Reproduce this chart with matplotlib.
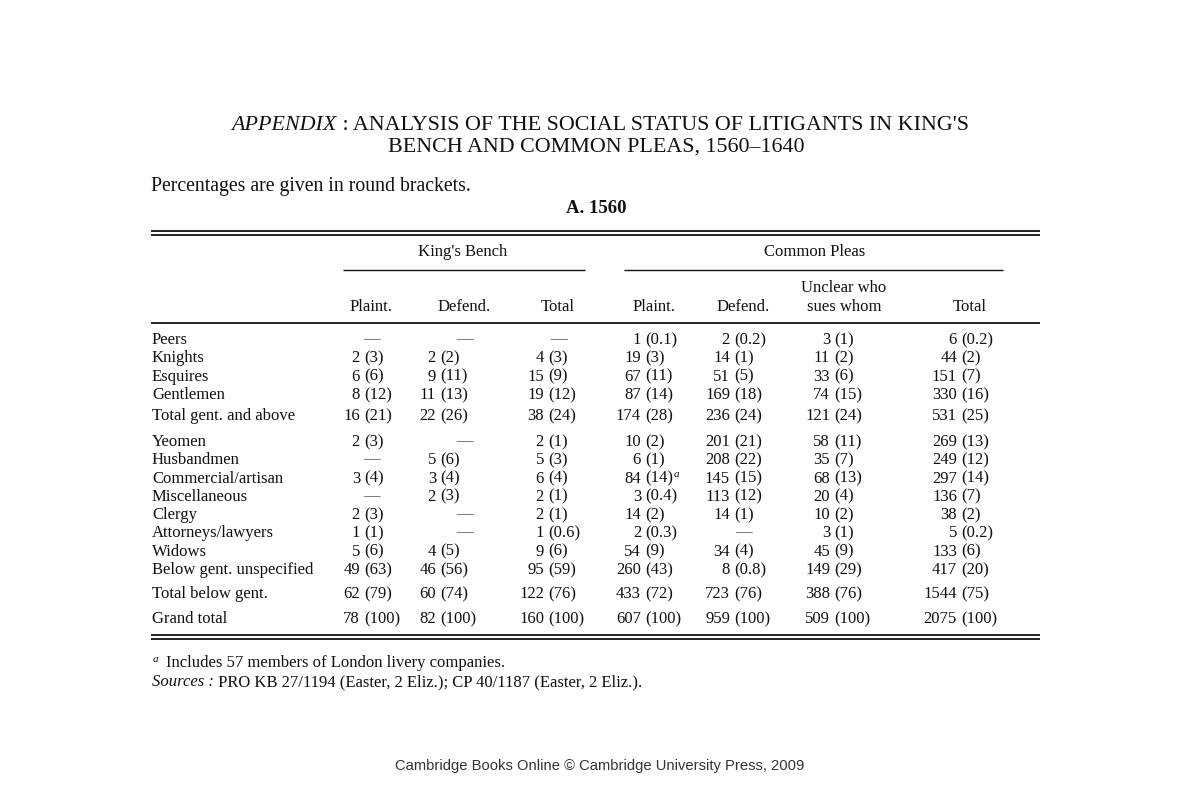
import matplotlib
matplotlib.use("Agg")
import matplotlib.pyplot as plt

# ---------------- data ----------------
row_labels = ["Peers", "Knights", "Esquires", "Gentlemen", "Total gent. and above",
              "Yeomen", "Husbandmen", "Commercial/artisan", "Miscellaneous", "Clergy",
              "Attorneys/lawyers", "Widows", "Below gent. unspecified",
              "Total below gent.", "Grand total"]

kb_plaint_n = [None, 2, 6, 8, 16, 2, None, 3, None, 2, 1, 5, 49, 62, 78]
kb_plaint_p = [None, 3, 6, 12, 21, 3, None, 4, None, 3, 1, 6, 63, 79, 100]
kb_defend_n = [None, 2, 9, 11, 22, None, 5, 3, 2, None, None, 4, 46, 60, 82]
kb_defend_p = [None, 2, 11, 13, 26, None, 6, 4, 3, None, None, 5, 56, 74, 100]
kb_total_n = [None, 4, 15, 19, 38, 2, 5, 6, 2, 2, 1, 9, 95, 122, 160]
kb_total_p = [None, 3, 9, 12, 24, 1, 3, 4, 1, 1, 0.6, 6, 59, 76, 100]
cp_plaint_n = [1, 19, 67, 87, 174, 10, 6, 84, 3, 14, 2, 54, 260, 433, 607]
cp_plaint_p = [0.1, 3, 11, 14, 28, 2, 1, 14, 0.4, 2, 0.3, 9, 43, 72, 100]
cp_defend_n = [2, 14, 51, 169, 236, 201, 208, 145, 113, 14, None, 34, 8, 723, 959]
cp_defend_p = [0.2, 1, 5, 18, 24, 21, 22, 15, 12, 1, None, 4, 0.8, 76, 100]
cp_unclear_n = [3, 11, 33, 74, 121, 58, 35, 68, 20, 10, 3, 45, 149, 388, 509]
cp_unclear_p = [1, 2, 6, 15, 24, 11, 7, 13, 4, 2, 1, 9, 29, 76, 100]
cp_total_n = [6, 44, 151, 330, 531, 269, 249, 297, 136, 38, 5, 133, 417, 1544, 2075]
cp_total_p = [0.2, 2, 7, 16, 25, 13, 12, 14, 7, 2, 0.2, 6, 20, 75, 100]

col_headers = ["Plaint.", "Defend.", "Total", "Plaint.", "Defend.", "sues whom", "Total"]
footnote_row = "Commercial/artisan"
footnote_col = 3

title1_it = "APPENDIX"
title1_rest = " : ANALYSIS OF THE SOCIAL STATUS OF LITIGANTS IN KING'S"
title2 = "BENCH AND COMMON PLEAS, 1560–1640"
subtitle = "Percentages are given in round brackets."
section = "A. 1560"
footnote = "Includes 57 members of London livery companies."
sources_it = "Sources :"
sources_rest = " PRO KB 27/1194 (Easter, 2 Eliz.); CP 40/1187 (Easter, 2 Eliz.)."
credit = "Cambridge Books Online © Cambridge University Press, 2009"

# ---------------- layout ----------------
W, H = 1201, 801
fig = plt.figure(figsize=(W / 100, H / 100), dpi=100)
ax = fig.add_axes([0, 0, 1, 1])
ax.set_xlim(0, W)
ax.set_ylim(H, 0)
ax.axis("off")

SERIF = "Liberation Serif"
INK = "#111111"
BODY = 12.0
TITLE = 15.8

fig.canvas.draw()
renderer = fig.canvas.get_renderer()


def width_of(t):
    return t.get_window_extent(renderer=renderer).width


def segments(x, y, parts, ha="left"):
    objs = []
    for s, kw in parts:
        objs.append(ax.text(0, y, s, va="baseline", ha="left", color=INK, family=SERIF, **kw))
    widths = [width_of(o) for o in objs]
    total = sum(widths)
    x0 = x - total / 2 if ha == "center" else x
    for o, w in zip(objs, widths):
        o.set_x(x0)
        x0 += w
    return objs


# title
segments(600, 130, [(title1_it, dict(fontsize=TITLE, style="italic")),
                    (title1_rest, dict(fontsize=TITLE))], ha="center")
ax.text(596, 152, title2, fontsize=TITLE, family=SERIF, color=INK, ha="center", va="baseline")
ax.text(151, 191, subtitle, fontsize=14.2, family=SERIF, color=INK, ha="left", va="baseline")
ax.text(596, 213, section, fontsize=13.5, family=SERIF, weight="bold", color=INK,
        ha="center", va="baseline")

# rules
LW = 1.3
x_left, x_right = 151, 1040
for yy in (230.5, 234.5, 634.5, 638.5):
    ax.plot([x_left, x_right], [yy, yy], color=INK, lw=LW, solid_capstyle="butt")
ax.plot([x_left, x_right], [323, 323], color=INK, lw=LW, solid_capstyle="butt")
ax.plot([343, 585], [270, 270], color=INK, lw=1.0, solid_capstyle="butt")
ax.plot([624, 1003], [270, 270], color=INK, lw=1.0, solid_capstyle="butt")

# group headers
ax.text(463, 256, "King's Bench", fontsize=BODY, family=SERIF, color=INK, ha="center", va="baseline")
ax.text(815, 256, "Common Pleas", fontsize=BODY, family=SERIF, color=INK, ha="center", va="baseline")
ax.text(844, 292, "Unclear who", fontsize=BODY, family=SERIF, color=INK, ha="center", va="baseline")

col_center = [371, 464, 558, 654, 743, 844, 970]
col_numright = [360, 436, 544, 641, 730, 830, 957]
for xc, h in zip(col_center, col_headers):
    ax.text(xc, 311, h, fontsize=BODY, family=SERIF, color=INK, ha="center", va="baseline")

# rows
gaps = [0, 18.3, 18.3, 18.3, 21, 26, 18.3, 18.3, 18.3, 18.3, 18.3, 18.3, 18.7, 24, 25]
y = 344
row_y = []
for g in gaps:
    y += g
    row_y.append(y)

columns = [(kb_plaint_n, kb_plaint_p), (kb_defend_n, kb_defend_p), (kb_total_n, kb_total_p),
           (cp_plaint_n, cp_plaint_p), (cp_defend_n, cp_defend_p),
           (cp_unclear_n, cp_unclear_p), (cp_total_n, cp_total_p)]


def fmt(v):
    if float(v).is_integer():
        return str(int(v))
    return str(v)


GAP = 4
for i, lab in enumerate(row_labels):
    yy = row_y[i]
    ax.text(152, yy, lab, fontsize=BODY, family=SERIF, color=INK, ha="left", va="baseline")
    for j, (ns, ps) in enumerate(columns):
        n, p = ns[i], ps[i]
        if n is None:
            ax.text(col_center[j], yy - 1, "—", fontsize=BODY, family=SERIF, color="#555555",
                    ha="center", va="baseline")
            continue
        ax.text(col_numright[j], yy, fmt(n), fontsize=BODY, family=SERIF, color=INK,
                ha="right", va="baseline")
        t = ax.text(col_numright[j] + GAP, yy, "(" + fmt(p) + ")", fontsize=BODY, family=SERIF,
                    color=INK, ha="left", va="baseline")
        if lab == footnote_row and j == footnote_col:
            w = width_of(t)
            ax.text(col_numright[j] + GAP + w + 1, yy - 6, "a", fontsize=8, family=SERIF,
                    style="italic", color=INK, ha="left", va="baseline")

# footnotes
ax.text(153, 662, "a", fontsize=8, family=SERIF, style="italic", color=INK, ha="left", va="baseline")
ax.text(166, 667, footnote, fontsize=12.0, family=SERIF, color=INK, ha="left", va="baseline")
segments(152, 686, [(sources_it, dict(fontsize=12.0, style="italic")),
                    (sources_rest, dict(fontsize=12.0))])

ax.text(600, 770, credit, fontsize=10.6, family="Liberation Sans", color="#333333",
        ha="center", va="baseline")

fig.savefig("out.png", dpi=100, facecolor="white")
